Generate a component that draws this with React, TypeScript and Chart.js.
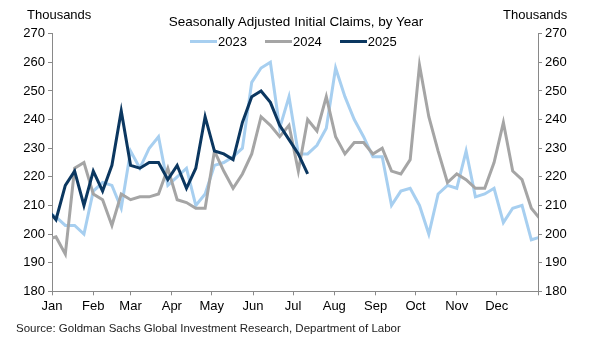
import React, { useEffect, useRef } from 'react';
import { Chart, registerables } from 'chart.js';

Chart.register(...registerables);

// Calendar: first day of each month (day of year) and their labels
const monthStartDays = [0, 31, 59, 90, 120, 151, 181, 212, 243, 273, 304, 334, 365];
const monthLabels = ['Jan', 'Feb', 'Mar', 'Apr', 'May', 'Jun', 'Jul', 'Aug', 'Sep', 'Oct', 'Nov', 'Dec', ''];

// Weekly observations; the first value is the last week of the prior year,
// the last value of 2023/2024 is the first week of the following year.
const firstWeekDay = -4;
const weekStep = 7;

const seriesNames = ['2023', '2024', '2025'];
const seriesColors = ['#a7cff0', '#a5a5a5', '#0b3760'];

// Initial claims, thousands
const claims2023 = [
  208, 206, 203, 203, 200, 215, 218, 217, 209, 229, 223, 230, 234, 217, 220, 223,
  210, 214, 224, 225, 227, 230, 253, 258, 260, 237, 248, 228, 228, 231, 237, 258,
  248, 240, 234, 227, 227, 210, 215, 216, 210, 200, 214, 217, 216, 229, 213, 214,
  216, 204, 209, 210, 198, 199,
];
const claims2024 = [
  198, 199, 193, 223, 225, 214, 212, 203, 214, 212, 213, 213, 214, 223, 212, 211,
  209, 209, 229, 222, 216, 221, 228, 241, 238, 234, 238, 222, 240, 236, 248, 234,
  228, 232, 232, 228, 230, 222, 221, 226, 259, 241, 229, 218, 221, 219, 216, 216,
  225, 239, 222, 219, 209, 205,
];
const claims2025 = [
  209, 205, 217, 222, 210, 222, 215, 224, 243, 224, 223, 225, 225, 219, 224, 216,
  223, 241, 229, 228, 226, 239, 248, 250, 246, 238, 233, 228, 221,
];

const yMin = 180;
const yMax = 270;
const yStep = 10;

const FONT = '"Liberation Sans", Arial, Helvetica, sans-serif';
const AXIS_COLOR = '#898989';

function toPoints(values: number[]) {
  return values.map((v, i) => ({ x: firstWeekDay + weekStep * i, y: v }));
}

export default function App() {
  const canvasRef = useRef<HTMLCanvasElement | null>(null);

  useEffect(() => {
    document.body.style.margin = '0';
    const canvas = canvasRef.current;
    if (!canvas) return;
    const allSeries = [claims2023, claims2024, claims2025];
    const tickFont = { family: FONT, size: 13 };
    const yScale = (position: 'left' | 'right', width: number) => ({
      type: 'linear' as const,
      position,
      min: yMin,
      max: yMax,
      ticks: {
        stepSize: yStep,
        color: '#000',
        font: tickFont,
        padding: 3,
      },
      grid: {
        display: true,
        drawOnChartArea: false,
        drawTicks: true,
        tickLength: 4,
        color: AXIS_COLOR,
      },
      border: { display: true, color: AXIS_COLOR, width: 1 },
      afterFit: (s: any) => {
        s.width = width;
      },
    });

    const chart = new Chart(canvas, {
      type: 'line',
      data: {
        datasets: allSeries.map((vals, k) => ({
          label: seriesNames[k],
          data: toPoints(vals),
          borderColor: seriesColors[k],
          backgroundColor: seriesColors[k],
          borderWidth: 3,
          pointRadius: 0,
          tension: 0,
          fill: false,
          order: 2 - k,
          yAxisID: 'y',
        })),
      },
      options: {
        responsive: false,
        animation: false,
        layout: { padding: { top: 33.7, bottom: 0, left: 0, right: 0 } },
        plugins: {
          legend: { display: false },
          title: { display: false },
          tooltip: { enabled: false },
        },
        scales: {
          x: {
            type: 'linear',
            min: 0,
            max: 365,
            afterBuildTicks: (s: any) => {
              s.ticks = monthStartDays.map((v) => ({ value: v }));
            },
            ticks: {
              autoSkip: false,
              maxRotation: 0,
              color: '#000',
              font: tickFont,
              padding: 3,
              callback: (_v: any, idx: number) => monthLabels[idx],
            },
            grid: {
              display: true,
              drawOnChartArea: false,
              drawTicks: true,
              tickLength: 4,
              color: AXIS_COLOR,
            },
            border: { display: true, color: AXIS_COLOR, width: 1 },
            afterFit: (s: any) => {
              s.height = 352 - 291.3;
            },
          },
          y: yScale('left', 52),
          y2: yScale('right', 53),
        },
      } as any,
    });
    return () => chart.destroy();
  }, []);

  const textBase: React.CSSProperties = {
    position: 'absolute',
    fontFamily: FONT,
    fontSize: 13,
    lineHeight: '15px',
    color: '#000',
    whiteSpace: 'nowrap',
  };

  return (
    <div style={{ position: 'relative', width: 591, height: 352, background: '#fff', overflow: 'hidden' }}>
      <canvas ref={canvasRef} width={591} height={352} style={{ display: 'block', width: 591, height: 352 }} />
      <div style={{ ...textBase, left: 27, top: 6.5 }}>Thousands</div>
      <div style={{ ...textBase, left: 503, top: 6.5 }}>Thousands</div>
      <div style={{ ...textBase, left: 0, width: 592, top: 13.5, fontSize: 13.5, textAlign: 'center' }}>
        Seasonally Adjusted Initial Claims, by Year
      </div>
      <div
        style={{
          ...textBase,
          left: 190,
          top: 34,
          display: 'flex',
          alignItems: 'center',
          gap: 18,
        }}
      >
        {seriesNames.map((name, k) => (
          <div key={name} style={{ display: 'flex', alignItems: 'center' }}>
            <div style={{ width: 27, height: 3, background: seriesColors[k], marginRight: 1 }} />
            <span>{name}</span>
          </div>
        ))}
      </div>
      <div style={{ ...textBase, left: 16, top: 322, fontSize: 11.5, lineHeight: '13px', color: '#222' }}>
        Source: Goldman Sachs Global Investment Research, Department of Labor
      </div>
    </div>
  );
}
